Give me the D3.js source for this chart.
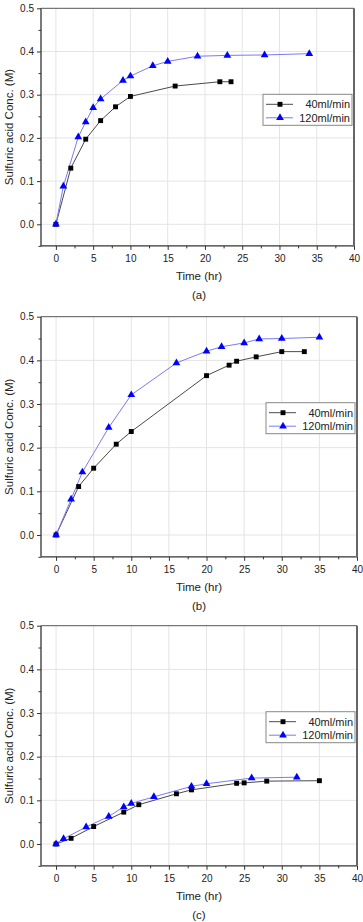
<!DOCTYPE html>
<html>
<head>
<meta charset="utf-8">
<script src="https://cdn.jsdelivr.net/npm/d3@7/dist/d3.min.js"></script>
<style>
  html, body { margin: 0; padding: 0; background: #fff; }
  svg { display: block; }
  text { font-family: "Liberation Sans", Arial, sans-serif; fill: #222; }
</style>
</head>
<body>
<svg id="chart" width="363" height="922"></svg>
<script>
// ─── Data ─────────────────────────────────────────────────
const seriesNames = ['40ml/min', '120ml/min'];
const panelLabels = ['(a)', '(b)', '(c)'];
const xTicks = [0, 5, 10, 15, 20, 25, 30, 35, 40];
const yTicks = [0.0, 0.1, 0.2, 0.3, 0.4, 0.5];

// panel (a)
const timeA40 = [0, 2, 4, 6, 8, 10, 16, 22, 23.5];
const concA40 = [0, 0.13, 0.197, 0.24, 0.272, 0.296, 0.32, 0.33, 0.33];
const timeA120 = [0, 1, 3, 4, 5, 6, 9, 10, 13, 15, 19, 23, 28, 34];
const concA120 = [0, 0.088, 0.202, 0.237, 0.27, 0.29, 0.333, 0.343, 0.367, 0.377, 0.389, 0.391, 0.392, 0.395];

// panel (b)
const timeB40 = [0, 3, 5, 8, 10, 20, 23, 24, 26.6, 30, 33];
const concB40 = [0, 0.111, 0.153, 0.208, 0.237, 0.365, 0.389, 0.398, 0.408, 0.42, 0.42];
const timeB120 = [0, 2, 3.5, 7, 10, 16, 20, 22, 25, 27, 30, 35];
const concB120 = [0, 0.082, 0.144, 0.246, 0.321, 0.394, 0.421, 0.431, 0.44, 0.449, 0.45, 0.453];

// panel (c)
const timeC40 = [0, 2, 5, 9, 11, 16, 18, 24, 25, 28, 35];
const concC40 = [0, 0.013, 0.04, 0.073, 0.09, 0.115, 0.124, 0.139, 0.14, 0.144, 0.145];
const timeC120 = [0, 1, 4, 7, 9, 10, 13, 18, 20, 26, 32];
const concC120 = [0, 0.012, 0.039, 0.063, 0.085, 0.093, 0.108, 0.132, 0.138, 0.151, 0.153];

const panels = [
  { label: panelLabels[0], top: 8.3, zero: 224.3, right: 354, s40: [timeA40, concA40], s120: [timeA120, concA120] },
  { label: panelLabels[1], top: 316.7, zero: 535, right: 357, s40: [timeB40, concB40], s120: [timeB120, concB120] },
  { label: panelLabels[2], top: 625.7, zero: 844, right: 357, s40: [timeC40, concC40], s120: [timeC120, concC120] }
];

const COL40 = '#000', LINE40 = '#4a4a4a';
const COL120 = '#0000ff', LINE120 = '#7b7bf0';
const AXIS = '#333';
const LEFT = 41;

const svg = d3.select('#chart');
const sq = d3.symbol().type(d3.symbolSquare).size(24);
const tri = d3.symbol().type(d3.symbolTriangle).size(26);

function toPts(s) { return s[0].map((t, i) => ({ t, c: s[1][i] })); }

panels.forEach(p => {
  // y-range: 0.5 at top, 0.0 at zero → extend to -0.05
  const per = (p.zero - p.top) / 0.5;
  const bottom = p.zero + 0.05 * per;
  const x = d3.scaleLinear().domain([-2, 40]).range([LEFT, p.right]);
  const y = d3.scaleLinear().domain([-0.05, 0.5]).range([bottom, p.top]);
  const g = svg.append('g');

  // grid
  g.append('g').selectAll('line').data(xTicks.filter(d => d < 40)).join('line')
    .attr('x1', d => x(d)).attr('x2', d => x(d)).attr('y1', p.top).attr('y2', bottom)
    .attr('stroke', '#e4e4e4').attr('stroke-width', 1);
  g.append('g').selectAll('line').data(yTicks.filter(d => d < 0.5)).join('line')
    .attr('x1', LEFT).attr('x2', p.right).attr('y1', d => y(d)).attr('y2', d => y(d))
    .attr('stroke', '#e4e4e4').attr('stroke-width', 1);

  // axes
  const xAxis = d3.axisBottom(x).tickValues(xTicks).tickSize(4).tickPadding(5).tickFormat(d3.format('d'));
  const xMinor = d3.axisBottom(x).tickValues(d3.range(2.5, 40, 5)).tickSize(2.5).tickFormat('');
  const yAxis = d3.axisLeft(y).tickValues(yTicks).tickSize(4).tickPadding(3).tickFormat(d3.format('.1f'));
  const yMinor = d3.axisLeft(y).tickValues([-0.05, 0.05, 0.15, 0.25, 0.35, 0.45]).tickSize(2.5).tickFormat('');

  [[xAxis, 'b'], [xMinor, 'b'], [yAxis, 'l'], [yMinor, 'l']].forEach(([ax, side]) => {
    const a = g.append('g')
      .attr('transform', side === 'b' ? `translate(0,${bottom})` : `translate(${LEFT},0)`)
      .call(ax);
    a.select('.domain').remove();
    a.selectAll('line').attr('stroke', AXIS);
    a.selectAll('text').attr('font-size', 10).attr('fill', '#222')
      .attr('font-family', '"Liberation Sans", Arial, sans-serif');
  });

  // frame
  g.append('line').attr('x1', LEFT).attr('x2', LEFT).attr('y1', p.top).attr('y2', bottom)
    .attr('stroke', AXIS).attr('stroke-width', 1.3);
  g.append('line').attr('x1', LEFT).attr('x2', p.right).attr('y1', bottom).attr('y2', bottom)
    .attr('stroke', AXIS).attr('stroke-width', 1.3);
  g.append('line').attr('x1', LEFT).attr('x2', p.right).attr('y1', p.top).attr('y2', p.top)
    .attr('stroke', '#555').attr('stroke-width', 1);
  g.append('line').attr('x1', p.right).attr('x2', p.right).attr('y1', p.top).attr('y2', bottom)
    .attr('stroke', '#666').attr('stroke-width', 2);

  // axis titles
  const midX = (LEFT + p.right) / 2 + 0;
  g.append('text').attr('x', 199).attr('y', bottom + 34).attr('text-anchor', 'middle')
    .attr('font-size', 11.5).text('Time (hr)');
  g.append('text').attr('x', 199).attr('y', bottom + 53).attr('text-anchor', 'middle')
    .attr('font-size', 11.5).text(p.label);
  g.append('text')
    .attr('transform', `translate(13,${(p.top + bottom) / 2}) rotate(-90)`)
    .attr('text-anchor', 'middle').attr('font-size', 11.5).text('Sulfuric acid Conc. (M)');

  // series
  const line = d3.line().x(d => x(d.t)).y(d => y(d.c));
  const d40 = toPts(p.s40), d120 = toPts(p.s120);
  g.append('path').datum(d40).attr('d', line).attr('fill', 'none').attr('stroke', LINE40).attr('stroke-width', 1);
  g.append('path').datum(d120).attr('d', line).attr('fill', 'none').attr('stroke', LINE120).attr('stroke-width', 1);
  g.append('g').selectAll('path').data(d40).join('path')
    .attr('d', sq).attr('transform', d => `translate(${x(d.t)},${y(d.c)})`).attr('fill', COL40);
  g.append('g').selectAll('path').data(d120).join('path')
    .attr('d', tri).attr('transform', d => `translate(${x(d.t)},${y(d.c)})`).attr('fill', COL120);

  // legend
  const lx = p.right - 91, ly = p.top + 86;
  const lg = g.append('g').attr('transform', `translate(${lx},${ly})`);
  lg.append('rect').attr('width', 89).attr('height', 31).attr('fill', '#fff')
    .attr('stroke', '#888').attr('stroke-width', 1);
  [[LINE40, COL40, sq], [LINE120, COL120, tri]].forEach(([lc, mc, sym], i) => {
    const yy = 10 + i * 13.5;
    lg.append('line').attr('x1', 3).attr('x2', 30).attr('y1', yy).attr('y2', yy)
      .attr('stroke', lc).attr('stroke-width', 1);
    lg.append('path').attr('d', sym).attr('transform', `translate(17,${yy})`).attr('fill', mc);
    lg.append('text').attr('x', 87).attr('y', yy + 4).attr('text-anchor', 'end')
      .attr('font-size', 11).text(seriesNames[i]);
  });
});
</script>
</body>
</html>
